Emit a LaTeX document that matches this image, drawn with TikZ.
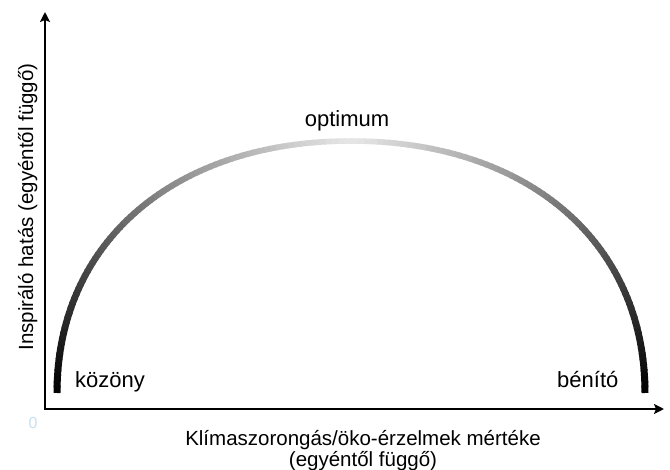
\documentclass[tikz,border=0pt]{standalone}
\usepackage{fontspec}
\setmainfont{Liberation Sans}
\usetikzlibrary{arrows.meta}
\definecolor{zerocol}{HTML}{C6E0F2}
\tikzset{
  axisline/.style={line width=2pt, black, {Stealth[length=10pt,width=10pt,inset=2pt]}-{Stealth[length=10pt,width=10pt,inset=2pt]}},
  curvelabel/.style={font=\fontsize{22}{26}\selectfont, inner sep=0pt},
  axislabel/.style={font=\fontsize{20.5}{21}\selectfont, inner sep=0pt, align=center},
}
\begin{document}
\begin{tikzpicture}[x=1pt,y=-1pt,
  declare function={
    bx(\t)=(1-\t)^3*57+3*(1-\t)^2*\t*57+3*(1-\t)*\t^2*174.6+\t^3*351;
    by(\t)=(1-\t)^3*393+3*(1-\t)^2*\t*241.8+3*(1-\t)*\t^2*141+\t^3*141;
  }]
\useasboundingbox (0,0) rectangle (670,470);
\fill[white] (0,0) rectangle (670,470);
% axes
\coordinate (O) at (45,409);
\coordinate (Ytop) at (45,12);
\coordinate (Xend) at (664,409);
\draw[axisline] (Ytop) -- (O) -- (Xend);
% arc with gradient
\foreach \i in {0,...,79}{
  \pgfmathsetmacro\ta{\i/80}
  \pgfmathsetmacro\tb{(\i+1.3)/80}
  \pgfmathtruncatemacro\pc{100-90*(\i+0.5)/80}
  \pgfmathsetmacro\w{7-1.5*(\i+0.5)/80}
  \draw[line width=\w pt, draw=black!\pc] ({bx(\ta)},{by(\ta)}) -- ({bx(\tb)},{by(\tb)});
  \draw[line width=\w pt, draw=black!\pc] ({702-bx(\ta)},{by(\ta)}) -- ({702-bx(\tb)},{by(\tb)});
}
% labels
\node[curvelabel, anchor=base] (opt) at (347,127) {optimum};
\node[curvelabel, anchor=base west] (koz) at (75,388) {közöny};
\node[curvelabel, anchor=base west] (ben) at (557,388) {bénító};
\node[axislabel, anchor=base] (xl1) at (363,446) {Klímaszorongás/öko-érzelmek mértéke};
\node[axislabel, anchor=base] (xl2) at (363,467) {(egyéntől függő)};
\node[axislabel, anchor=base, rotate=90] (yl) at (33,207) {Inspiráló hatás (egyéntől függő)};
\node[font=\fontsize{16}{16}\selectfont, text=zerocol, inner sep=0pt] (zero) at (33,423) {0};
\end{tikzpicture}
\end{document}
